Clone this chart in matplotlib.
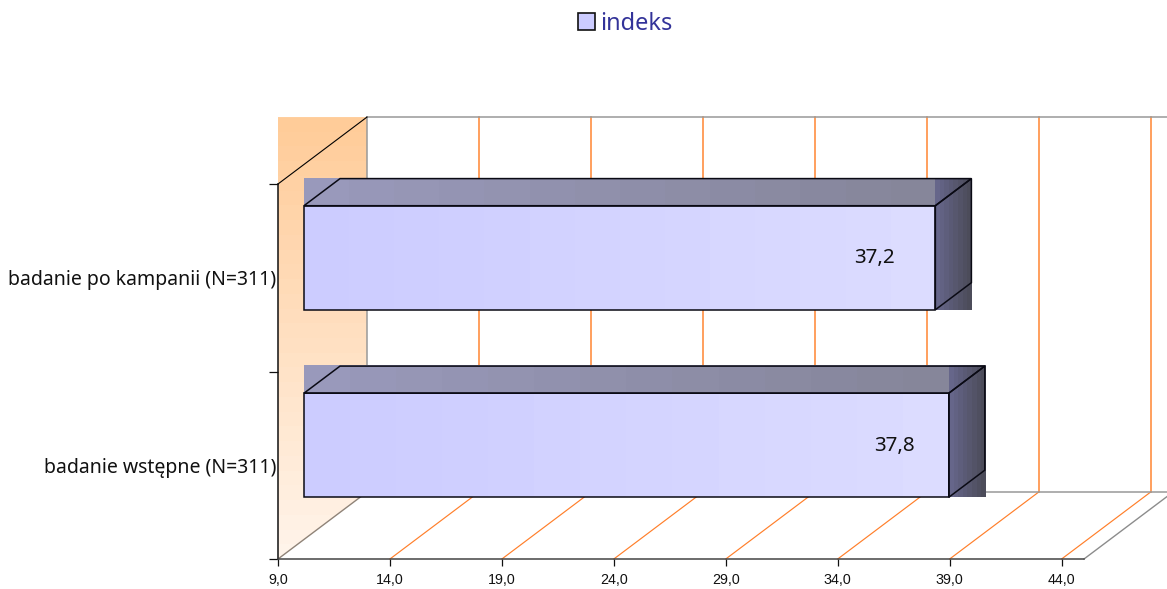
import numpy as np
import matplotlib
matplotlib.use("Agg")
import matplotlib.pyplot as plt
from matplotlib.colors import LinearSegmentedColormap
from matplotlib.patches import Patch, Polygon

# chart data
categories = ["badanie wstępne (N=311)", "badanie po kampanii (N=311)"]
values = [37.8, 37.2]
value_labels = ["37,8", "37,2"]
x_ticks = [9, 14, 19, 24, 29, 34, 39, 44]
x_tick_labels = ["9,0", "14,0", "19,0", "24,0", "29,0", "34,0", "39,0", "44,0"]
series_name = "indeks"

# 3D look: how far the back wall sits from the front plane, in data units
DEPTH_X = 3.975
DEPTH_Y = 0.357
BAR_FRONT = 0.292
BAR_BACK = 0.697
X_MIN, X_MAX = 9, 45
Y_MAX = 2
X_PX = 22.39

UI_FONT = "Noto Sans"


def shade(ax, x0, x1, y0, y1, colors, vertical=False, bands=14, zorder=2):
    """Fill a rectangle with a stepped gradient."""
    cmap = LinearSegmentedColormap.from_list("face", colors)
    ramp = np.linspace(0, 1, bands)
    ramp = ramp.reshape(-1, 1) if vertical else ramp.reshape(1, -1)
    return ax.imshow(ramp, cmap=cmap, vmin=0, vmax=1, extent=(x0, x1, y0, y1),
                     origin="lower", aspect="auto", interpolation="nearest",
                     zorder=zorder, clip_on=False)


def outline(ax, pts, zorder=3):
    ax.add_patch(Polygon(pts, closed=True, fill=False, edgecolor="#0a0a14", linewidth=1.1,
                         joinstyle="miter", zorder=zorder, clip_on=False))


fig = plt.figure(figsize=(11.67, 5.89), dpi=100, facecolor="white")
ax = fig.add_axes([278 / 1167, 30 / 589, 806 / 1167, 375 / 589])
ax.set_facecolor("none")

# side wall, with a gradient from the top of the wall down to the floor
wall = shade(ax, X_MIN, X_MIN + DEPTH_X, 0, Y_MAX + DEPTH_Y,
             ["#fff4ea", "#ffcc99"], vertical=True, bands=30, zorder=1)
wall_shape = Polygon([(X_MIN, 0), (X_MIN + DEPTH_X, DEPTH_Y),
                      (X_MIN + DEPTH_X, Y_MAX + DEPTH_Y), (X_MIN, Y_MAX + DEPTH_Y)],
                     transform=ax.transData, fill=False, edgecolor="none")
ax.add_patch(wall_shape)
wall_shape.set_clip_on(False)
wall.set_clip_on(True)
wall.set_clip_box(fig.bbox)
wall.set_clip_path(wall_shape)

# back wall frame and floor edges
back_x = X_MIN + DEPTH_X
ax.plot([back_x, back_x], [DEPTH_Y, Y_MAX + DEPTH_Y], color="#999999", lw=1.1, zorder=1.5, clip_on=False)
ax.plot([back_x, X_MAX + DEPTH_X], [Y_MAX + DEPTH_Y] * 2, color="#999999", lw=1.1, zorder=1.5, clip_on=False)
ax.plot([back_x, X_MAX + DEPTH_X], [DEPTH_Y] * 2, color="#999999", lw=1.1, zorder=1.5, clip_on=False)
ax.plot([X_MAX, X_MAX + DEPTH_X], [0, DEPTH_Y], color="#8c8c8c", lw=1.0, zorder=1.5, clip_on=False)
ax.plot([X_MIN, back_x], [0, DEPTH_Y], color="#8f8378", lw=1.0, zorder=1.5, clip_on=False)
ax.plot([X_MIN, back_x], [Y_MAX, Y_MAX + DEPTH_Y], color="black", lw=0.8, zorder=1.6, clip_on=False)

# gridlines on the back wall and the floor
for t in x_ticks[1:]:
    ax.plot([t + DEPTH_X] * 2, [DEPTH_Y, Y_MAX + DEPTH_Y], color="#ff8a3a", lw=1.15, zorder=1.2, clip_on=False)
    ax.plot([t, t + DEPTH_X], [0, DEPTH_Y], color="#ff7f2a", lw=0.85, zorder=1.2, clip_on=False)

# bars, upper one first
for i in reversed(range(len(values))):
    v = values[i]
    fx, fy = BAR_FRONT * DEPTH_X, BAR_FRONT * DEPTH_Y
    bx, by = BAR_BACK * DEPTH_X, BAR_BACK * DEPTH_Y
    low, high = i + 0.225, i + 0.78
    left, right = X_MIN + fx, v + fx
    y0, y1 = low + fy, high + fy
    back_l, back_r = X_MIN + bx, v + bx
    back_y0, back_y1 = low + by, high + by

    shade(ax, left, right, y1, back_y1, ["#9999bb", "#86869a"])
    shade(ax, right, back_r, y0, back_y1, ["#66668a", "#4c4c5a"], bands=8)
    shade(ax, left, right, y0, y1, ["#ccccff", "#dcdcff"], zorder=2.2)

    outline(ax, [(left, y1), (back_l, back_y1), (back_r, back_y1), (right, y1)])
    outline(ax, [(right, y0), (back_r, back_y0), (back_r, back_y1), (right, y1)])
    outline(ax, [(left, y0), (right, y0), (right, y1), (left, y1)])

# value labels sit inside the front face, a little left of the bar end
label_gap_px = [54, 61]
for i, v in enumerate(values):
    ax.text(v + BAR_FRONT * DEPTH_X - label_gap_px[i] / X_PX, i + 0.5 + BAR_FRONT * DEPTH_Y,
            value_labels[i], ha="center", va="center", fontsize=14.8,
            family=UI_FONT, color="#111111", zorder=4)

# axes
ax.set_xlim(X_MIN, X_MAX)
ax.set_ylim(0, Y_MAX)
ax.set_xticks(x_ticks)
ax.set_xticklabels(x_tick_labels, family="Liberation Sans", fontsize=10.3, color="#111111")
ax.tick_params(axis="x", length=5.2, width=0.9, pad=5, color="#111111")
ax.set_yticks([0, 1, 2])
ax.set_yticklabels([])
ax.tick_params(axis="y", which="major", length=6.3, width=0.9, color="#111111")
ax.set_yticks([0.5, 1.5], minor=True)
ax.set_yticklabels(categories, minor=True, family=UI_FONT, fontsize=14.0, color="#111111")
ax.tick_params(axis="y", which="minor", length=0, pad=1.4)
for side in ["top", "right"]:
    ax.spines[side].set_visible(False)
ax.spines["left"].set_linewidth(1.1)
ax.spines["bottom"].set_linewidth(1.1)
ax.spines["left"].set_color("#111111")
ax.spines["bottom"].set_color("#444444")

handle = Patch(facecolor="#ccccff", edgecolor="#111111", linewidth=1.2, label=series_name)
fig.legend(handles=[handle], loc="center", bbox_to_anchor=(625 / 1167, 1 - 24 / 589),
           frameon=False, labelcolor="#333399", handlelength=0.72,
           handleheight=0.72, handletextpad=0.22, prop={"family": UI_FONT, "size": 17})

fig.savefig("out.png", dpi=100)
